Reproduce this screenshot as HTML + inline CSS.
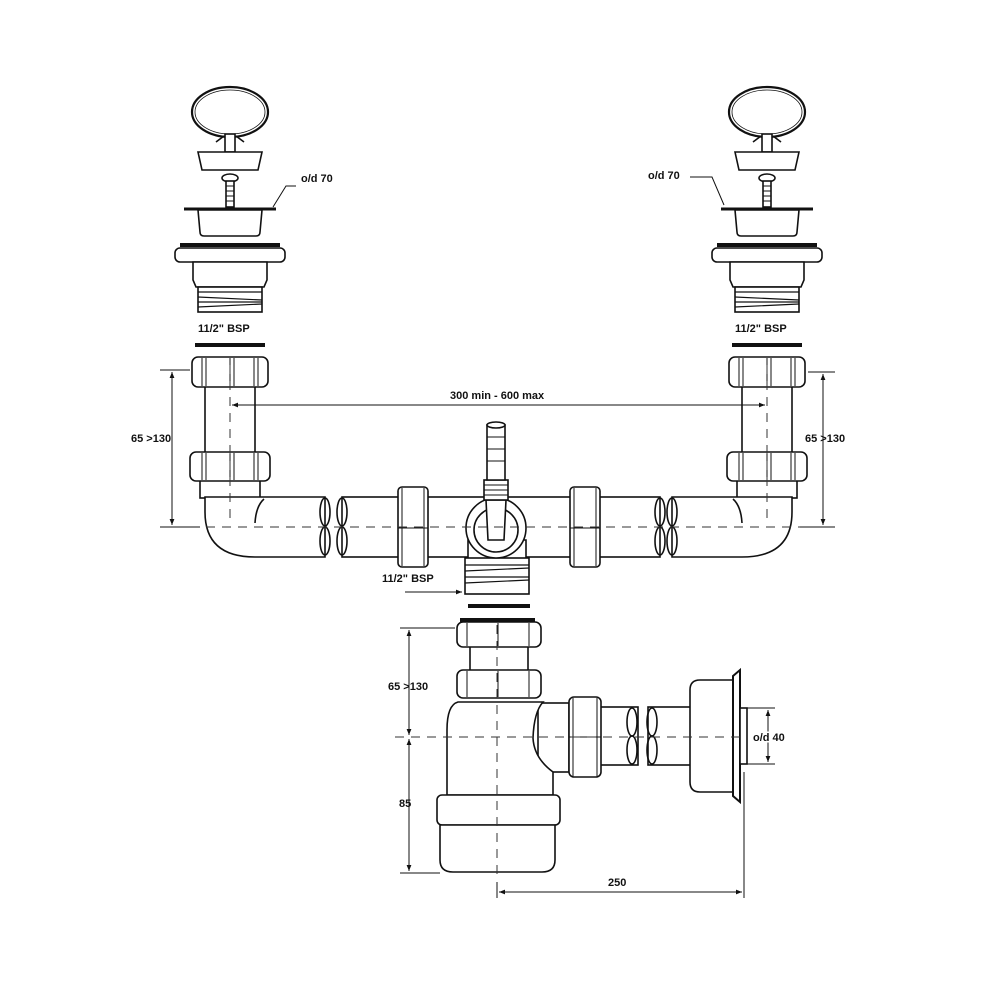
<!DOCTYPE html>
<html><head><meta charset="utf-8"><style>
body{margin:0;background:#fff}
svg{display:block}
text{font-family:"Liberation Sans",Arial,sans-serif;font-size:11px;font-weight:bold;fill:#111}
</style></head><body>
<svg width="1000" height="1000" viewBox="0 0 1000 1000" xmlns="http://www.w3.org/2000/svg">
<defs>
<marker id="ar" viewBox="0 0 10 10" refX="10" refY="5" markerWidth="6" markerHeight="6" orient="auto-start-reverse"><path d="M0,1 L10,5 L0,9 z" fill="#111"/></marker>
<g id="stack" fill="#fff" stroke="#111" stroke-width="1.6">
  <ellipse cx="0" cy="112" rx="38" ry="25" fill="none" stroke-width="2.2"/>
  <ellipse cx="0" cy="112" rx="35" ry="22" fill="none" stroke-width="0.8"/>
  <rect x="-5" y="134" width="10" height="18"/>
  <path d="M-14,142 L-6,136 M14,142 L6,136"/>
  <path d="M-32,152 H32 L28,170 H-28 Z"/>
  <ellipse cx="0" cy="178" rx="8" ry="4"/>
  <rect x="-4" y="181" width="8" height="26"/>
  <path d="M-4,186 H4 M-4,191 H4 M-4,196 H4 M-4,201 H4" stroke-width="1"/>
  <path d="M-32,210 H32 L30,232 Q30,236 26,236 H-26 Q-30,236 -30,232 Z"/>
  <line x1="-46" y1="209" x2="46" y2="209" stroke-width="3"/>
  <line x1="-50" y1="245" x2="50" y2="245" stroke-width="4"/>
  <rect x="-55" y="248" width="110" height="14" rx="5"/>
  <path d="M-37,262 H37 V280 L34,287 H-34 L-37,280 Z"/>
  <rect x="-32" y="287" width="64" height="25"/>
  <path d="M-32,292 H32 M-32,297 L32,300 M-32,302 H32 M-32,307 L32,304" stroke-width="1.2"/>
  <line x1="-35" y1="345" x2="35" y2="345" stroke-width="4"/>
  <rect x="-25" y="386" width="50" height="70"/>
  <rect x="-38" y="357" width="76" height="30" rx="6"/>
  <path d="M-28,358 V386 M0,358 V386 M28,358 V386 M-24,358 V386 M4,358 V386 M24,358 V386" stroke-width="1"/>
  <rect x="-30" y="480" width="60" height="18"/>
  <rect x="-40" y="452" width="80" height="29" rx="6"/>
  <path d="M-28,453 V480 M0,453 V480 M28,453 V480 M-24,453 V480 M4,453 V480 M24,453 V480" stroke-width="1"/>
</g>
<g id="elbow" fill="#fff" stroke="#111" stroke-width="1.6">
  <path d="M-25,497 V512 Q-25,557 25,557 H95 V497 Z"/>
  <path d="M34,499 Q26,506 25,523" fill="none"/>
  <ellipse cx="95" cy="512" rx="5" ry="14" fill="none"/>
  <ellipse cx="95" cy="541" rx="5" ry="14" fill="none"/>
</g>
</defs>

<use href="#stack" transform="translate(230,0)"/>
<use href="#stack" transform="translate(767,0)"/>
<use href="#elbow" transform="translate(230,0)"/>
<use href="#elbow" transform="translate(767,0) scale(-1,1)"/>

<g fill="#fff" stroke="#111" stroke-width="1.6">
  <rect x="342" y="497" width="318" height="60"/>
  <ellipse cx="342" cy="512" rx="5" ry="14" fill="none"/>
  <ellipse cx="342" cy="541" rx="5" ry="14" fill="none"/>
  <ellipse cx="660" cy="512" rx="5" ry="14" fill="none"/>
  <ellipse cx="660" cy="541" rx="5" ry="14" fill="none"/>
  <rect x="398" y="487" width="30" height="80" rx="4"/>
  <path d="M402,488 V566 M424,488 V566 M398,528 H428" stroke-width="1"/>
  <rect x="570" y="487" width="30" height="80" rx="4"/>
  <path d="M574,488 V566 M596,488 V566 M570,528 H600" stroke-width="1"/>
  <path d="M468,540 V560 H526 V540 Z"/>
  <rect x="465" y="558" width="64" height="36"/>
  <path d="M465,565 H529 M465,571 L529,568 M465,577 H529 M465,583 L529,580" stroke-width="1.2"/>
  <circle cx="496" cy="528" r="30"/>
  <circle cx="496" cy="530" r="22"/>
  <path d="M486,500 L488,540 H504 L506,500 Z"/>
  <rect x="484" y="480" width="24" height="20"/>
  <path d="M484,485 H508 M484,490 H508 M484,495 H508" stroke-width="1"/>
  <path d="M487,425 H505 V480 H487 Z"/>
  <ellipse cx="496" cy="425" rx="9" ry="3"/>
  <path d="M487,437 H505 M487,449 H505 M487,461 H505" stroke-width="1"/>
  <line x1="468" y1="606" x2="530" y2="606" stroke-width="4"/>
  <line x1="460" y1="620" x2="535" y2="620" stroke-width="4"/>

  <rect x="470" y="645" width="58" height="28"/>
  <rect x="457" y="622" width="84" height="25" rx="6"/>
  <path d="M467,623 V646 M498,623 V646 M529,623 V646" stroke-width="1"/>
  <rect x="457" y="670" width="84" height="28" rx="6"/>
  <path d="M467,671 V697 M498,671 V697 M529,671 V697" stroke-width="1"/>
  <rect x="538" y="703" width="31" height="69"/>
  <path d="M458,702 Q447,705 447,730 L447,795 H553 V772 Q534,758 533,738 Q534,712 543,702 Z"/>
  <rect x="437" y="795" width="123" height="30" rx="5"/>
  <path d="M440,825 H555 V860 Q555,872 542,872 H453 Q440,872 440,860 Z"/>
  <rect x="600" y="707" width="38" height="58"/>
  <ellipse cx="632" cy="722" rx="5" ry="14" fill="none"/>
  <ellipse cx="632" cy="750" rx="5" ry="14" fill="none"/>
  <rect x="648" y="707" width="45" height="58"/>
  <ellipse cx="652" cy="722" rx="5" ry="14" fill="none"/>
  <ellipse cx="652" cy="750" rx="5" ry="14" fill="none"/>
  <rect x="569" y="697" width="32" height="80" rx="5"/>
  <path d="M573,698 V776 M597,698 V776 M569,737 H601" stroke-width="1"/>
  <path d="M690,690 Q690,680 700,680 H733 V792 H700 Q690,792 690,782 Z"/>
  <path d="M733,676 L740,670 V802 L733,796 Z" stroke-width="2"/>
  <rect x="740" y="708" width="7" height="56"/>
</g>

<g stroke="#333" stroke-width="1" stroke-dasharray="9,7" fill="none">
  <line x1="190" y1="527" x2="810" y2="527"/>
  <line x1="230" y1="365" x2="230" y2="520"/>
  <line x1="767" y1="365" x2="767" y2="520"/>
  <line x1="395" y1="737" x2="740" y2="737"/>
  <line x1="497" y1="625" x2="497" y2="880"/>
</g>

<g stroke="#111" stroke-width="1" fill="none">
  <line x1="160" y1="370" x2="190" y2="370"/>
  <line x1="160" y1="527" x2="200" y2="527"/>
  <line x1="172" y1="372" x2="172" y2="525" marker-start="url(#ar)" marker-end="url(#ar)"/>
  <line x1="808" y1="372" x2="835" y2="372"/>
  <line x1="800" y1="527" x2="835" y2="527"/>
  <line x1="823" y1="374" x2="823" y2="525" marker-start="url(#ar)" marker-end="url(#ar)"/>
  <line x1="232" y1="405" x2="765" y2="405" marker-start="url(#ar)" marker-end="url(#ar)"/>
  <line x1="400" y1="628" x2="455" y2="628"/>
  <line x1="400" y1="873" x2="440" y2="873"/>
  <line x1="409" y1="630" x2="409" y2="735" marker-start="url(#ar)" marker-end="url(#ar)"/>
  <line x1="409" y1="739" x2="409" y2="871" marker-start="url(#ar)" marker-end="url(#ar)"/>
  <line x1="747" y1="708" x2="775" y2="708"/>
  <line x1="747" y1="764" x2="775" y2="764"/>
  <line x1="768" y1="710" x2="768" y2="762" marker-start="url(#ar)" marker-end="url(#ar)"/>
  <line x1="744" y1="772" x2="744" y2="898"/>
  <line x1="499" y1="892" x2="742" y2="892" marker-start="url(#ar)" marker-end="url(#ar)"/>
  <line x1="497" y1="882" x2="497" y2="898"/>
  <path d="M296,186 H286 L273,207"/>
  <path d="M690,177 H712 L724,205"/>
  <line x1="405" y1="592" x2="462" y2="592" marker-end="url(#ar)"/>
</g>

<g>
  <text x="301" y="182">o/d 70</text>
  <text x="648" y="179">o/d 70</text>
  <text x="198" y="332">11/2" BSP</text>
  <text x="735" y="332">11/2" BSP</text>
  <text x="450" y="399">300 min - 600 max</text>
  <text x="131" y="442">65 &gt;130</text>
  <text x="805" y="442">65 &gt;130</text>
  <text x="382" y="582">11/2" BSP</text>
  <text x="388" y="690">65 &gt;130</text>
  <text x="399" y="807">85</text>
  <text x="753" y="741" style="paint-order:stroke;stroke:#fff;stroke-width:3px">o/d 40</text>
  <text x="608" y="886">250</text>
</g>
</svg>
</body></html>
